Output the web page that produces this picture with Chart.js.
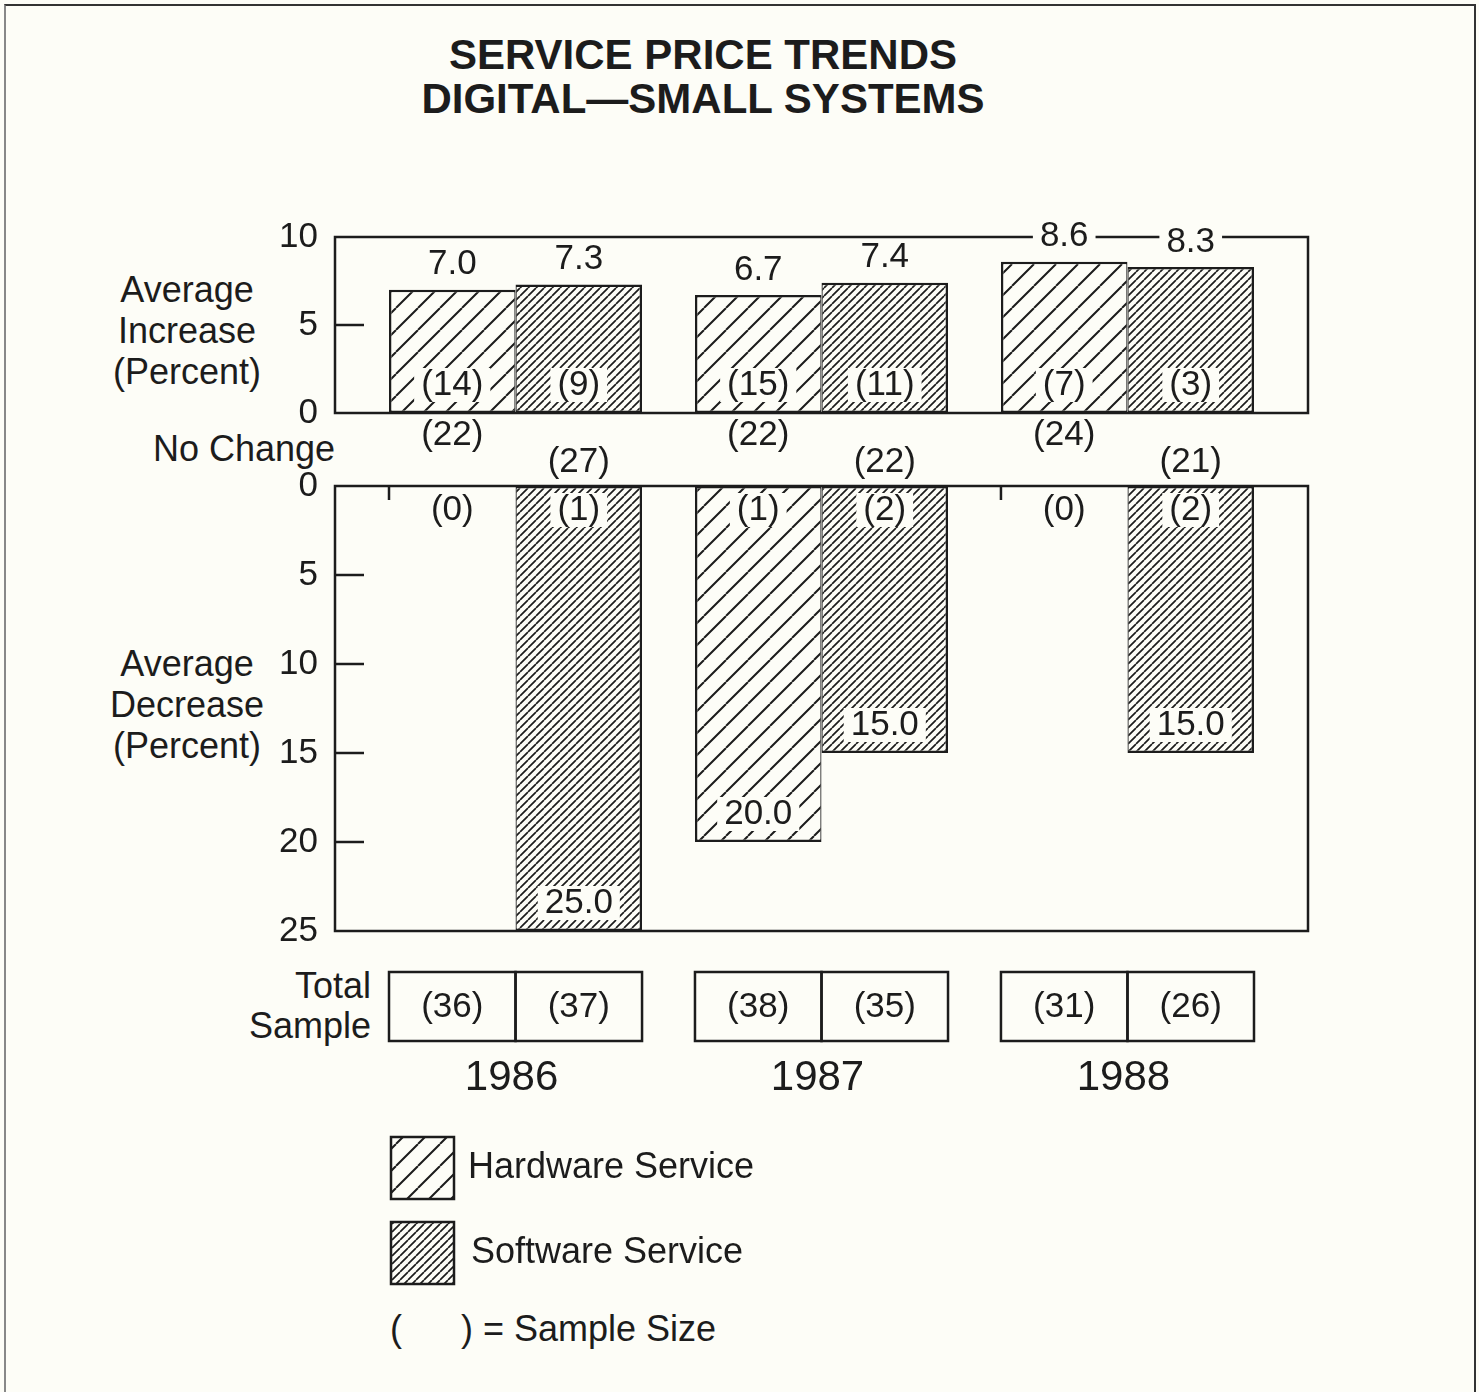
<!DOCTYPE html>
<html>
<head>
<meta charset="utf-8">
<title>Service Price Trends - Digital Small Systems</title>
<script src="https://cdn.jsdelivr.net/npm/chart.js@4.4.0/dist/chart.umd.min.js"></script>
<style>
  body { margin: 0; background: #fdfdf7; font-family: "Liberation Sans", Arial, Helvetica, sans-serif; color: #1c1c1c; }
  #page { position: relative; width: 1479px; height: 1392px; overflow: hidden; }
  #page canvas { position: absolute; left: 0; top: 0; }
  #border { position: absolute; left: 4px; top: 4px; width: 1468px; height: 1420px; border: 2px solid #333; border-left-color: #888; }
  .c { position: absolute; font-size: 36px; white-space: pre; text-align: center; transform: translate(-50%, -50%); }
  .title { font-size: 42px; font-weight: bold; line-height: 44px; }
  .axis { line-height: 41px; }
</style>
</head>
<body>
<div id="page">
  <div id="border"></div>
  <div class="c title" style="left:703px; top:77px;">SERVICE PRICE TRENDS<br>DIGITAL—SMALL SYSTEMS</div>
  <div class="c axis" style="left:187px; top:330px;">Average<br>Increase<br>(Percent)</div>
  <div class="c" style="left:244px; top:449px;">No Change</div>
  <div class="c axis" style="left:187px; top:704px;">Average<br>Decrease<br>(Percent)</div>
  <div class="c" style="left:0; top:966px; width:371px; text-align:right; line-height:40px; transform:none;">Total<br>Sample</div>
  <div class="c" style="left:390px; top:1308px; transform:none;">(</div>
  <div class="c" style="left:461px; top:1308px; transform:none;">) = Sample Size</div>
  <canvas id="bottom" width="1479" height="1392"></canvas>
  <canvas id="top" width="1479" height="1392"></canvas>
</div>
<script>
// data
const years = ['1986', '1987', '1988'];
const hwIncrease = [7.0, 6.7, 8.6];
const swIncrease = [7.3, 7.4, 8.3];
const hwIncreaseN = [14, 15, 7];
const swIncreaseN = [9, 11, 3];
const hwNoChangeN = [22, 22, 24];
const swNoChangeN = [27, 22, 21];
const hwDecrease = [0, 20.0, 0];
const swDecrease = [25.0, 15.0, 15.0];
const hwDecreaseN = [0, 1, 0];
const swDecreaseN = [1, 2, 2];
const hwTotal = [36, 38, 31];
const swTotal = [37, 35, 26];
const increaseTicks = [0, 5, 10];
const decreaseTicks = [0, 5, 10, 15, 20, 25];

const INK = '#1c1c1c';
const BG = '#fdfdf7';
const FONT = '35px "Liberation Sans", Arial, sans-serif';

function hatch(step, width) {
  const tile = document.createElement('canvas');
  tile.width = tile.height = step;
  const g = tile.getContext('2d');
  g.fillStyle = BG;
  g.fillRect(0, 0, step, step);
  g.strokeStyle = INK;
  g.lineWidth = width;
  g.beginPath();
  for (let k = -1; k <= 1; k++) {
    g.moveTo(k * step, step);
    g.lineTo(k * step + step, 0);
  }
  g.stroke();
  return document.getElementById('top').getContext('2d').createPattern(tile, 'repeat');
}

const hwFill = hatch(22, 2);
const swFill = hatch(8, 1.7);

function tag(ctx, text, x, y, boxed, font) {
  ctx.save();
  ctx.font = font || FONT;
  if (boxed) {
    const w = ctx.measureText(text).width;
    ctx.fillStyle = BG;
    ctx.fillRect(x - w / 2 - 7, y - 17, w + 14, 34);
  }
  ctx.fillStyle = INK;
  ctx.textAlign = 'center';
  ctx.textBaseline = 'middle';
  ctx.fillText(text, x, y);
  ctx.restore();
}

function frame(ticks) {
  return {
    id: 'frame',
    beforeDatasetsDraw(chart) {
      const { ctx, chartArea: a } = chart;
      const y = chart.scales.y;
      ctx.save();
      ctx.strokeStyle = INK;
      ctx.lineWidth = 2.5;
      ctx.strokeRect(a.left, a.top, a.right - a.left, a.bottom - a.top);
      ctx.font = FONT;
      ctx.fillStyle = INK;
      ctx.textAlign = 'right';
      ctx.textBaseline = 'middle';
      ticks.forEach((t, i) => {
        const py = y.getPixelForValue(t);
        if (i > 0 && i < ticks.length - 1) {
          ctx.beginPath();
          ctx.moveTo(a.left, py);
          ctx.lineTo(a.left + 29, py);
          ctx.stroke();
        }
        ctx.fillText(String(t), a.left - 17, py);
      });
      ctx.restore();
    }
  };
}

const topLabels = {
  id: 'topLabels',
  afterDatasetsDraw(chart) {
    const { ctx, chartArea: a } = chart;
    [[hwIncrease, hwIncreaseN, hwNoChangeN], [swIncrease, swIncreaseN, swNoChangeN]].forEach(([vals, ns, nc], d) => {
      chart.getDatasetMeta(d).data.forEach((bar, i) => {
        tag(ctx, vals[i].toFixed(1), bar.x, bar.y - 25, true);
        tag(ctx, '(' + ns[i] + ')', bar.x, a.bottom - 28, true);
        tag(ctx, '(' + nc[i] + ')', bar.x, a.bottom + 22 + d * 27, false);
      });
    });
  }
};

const bottomLabels = {
  id: 'bottomLabels',
  afterDatasetsDraw(chart) {
    const { ctx, chartArea: a } = chart;
    [[hwDecrease, hwDecreaseN, hwTotal], [swDecrease, swDecreaseN, swTotal]].forEach(([vals, ns, tot], d) => {
      chart.getDatasetMeta(d).data.forEach((bar, i) => {
        const left = bar.x - bar.width / 2;
        ctx.save();
        ctx.strokeStyle = INK;
        ctx.lineWidth = 2.5;
        if (vals[i] === 0) {
          ctx.beginPath();
          ctx.moveTo(left, a.top);
          ctx.lineTo(left, a.top + 14);
          ctx.stroke();
        }
        // total sample cell
        ctx.strokeRect(left, a.bottom + 41, bar.width, 69);
        ctx.restore();
        tag(ctx, '(' + ns[i] + ')', bar.x, a.top + 24, true);
        if (vals[i] > 0) tag(ctx, vals[i].toFixed(1), bar.x, bar.y - 28, true);
        tag(ctx, '(' + tot[i] + ')', bar.x, a.bottom + 76, false);
      });
    });
    const hwBars = chart.getDatasetMeta(0).data;
    const swBars = chart.getDatasetMeta(1).data;
    years.forEach((yr, i) => {
      tag(ctx, yr, (hwBars[i].x + swBars[i].x) / 2 - 4, a.bottom + 147, false, '42px "Liberation Sans", Arial, sans-serif');
    });
    // legend
    chart.data.datasets.forEach((ds, d) => {
      const top = 1137 + d * 85;
      ctx.save();
      ctx.fillStyle = ds.backgroundColor;
      ctx.fillRect(391, top, 63, 62);
      ctx.strokeStyle = INK;
      ctx.lineWidth = 2.5;
      ctx.strokeRect(391, top, 63, 62);
      ctx.font = '36px "Liberation Sans", Arial, sans-serif';
      ctx.fillStyle = INK;
      ctx.textAlign = 'left';
      ctx.textBaseline = 'middle';
      ctx.fillText(ds.label, 468 + d * 3, top + 31);
      ctx.restore();
    });
  }
};

function dataset(label, vals, fill, d) {
  return {
    label,
    data: vals.map((v, i) => ({ x: i, y: v })),
    backgroundColor: fill,
    borderColor: INK,
    borderWidth: d === 0 ? { top: 2.5, left: 2.5, bottom: 2.5, right: 1.25 } : { top: 2.5, left: 1.25, bottom: 2.5, right: 2.5 },
    borderSkipped: false,
    categoryPercentage: 0.827,
    barPercentage: 1
  };
}

function panel(id, hw, sw, ticks, reverse, padding, labels) {
  return new Chart(document.getElementById(id), {
    type: 'bar',
    data: {
      datasets: [
        dataset('Hardware Service', hw, hwFill, 0),
        dataset('Software Service', sw, swFill, 1)
      ]
    },
    options: {
      responsive: false,
      animation: false,
      events: [],
      layout: { padding },
      plugins: { legend: { display: false }, tooltip: { enabled: false } },
      scales: {
        x: {
          type: 'linear',
          display: false,
          offset: false,
          grid: { offset: false },
          min: -0.59,
          max: years.length - 1 + 0.59,
          afterBuildTicks: s => { s.ticks = years.map((_, i) => ({ value: i })); }
        },
        y: { display: false, min: ticks[0], max: ticks[ticks.length - 1], reverse }
      }
    },
    plugins: [frame(ticks), labels]
  });
}

panel('top', hwIncrease, swIncrease, increaseTicks, false, { left: 335, top: 237, right: 171, bottom: 979 }, topLabels);
panel('bottom', hwDecrease, swDecrease, decreaseTicks, true, { left: 335, top: 486, right: 171, bottom: 461 }, bottomLabels);
</script>
</body>
</html>
